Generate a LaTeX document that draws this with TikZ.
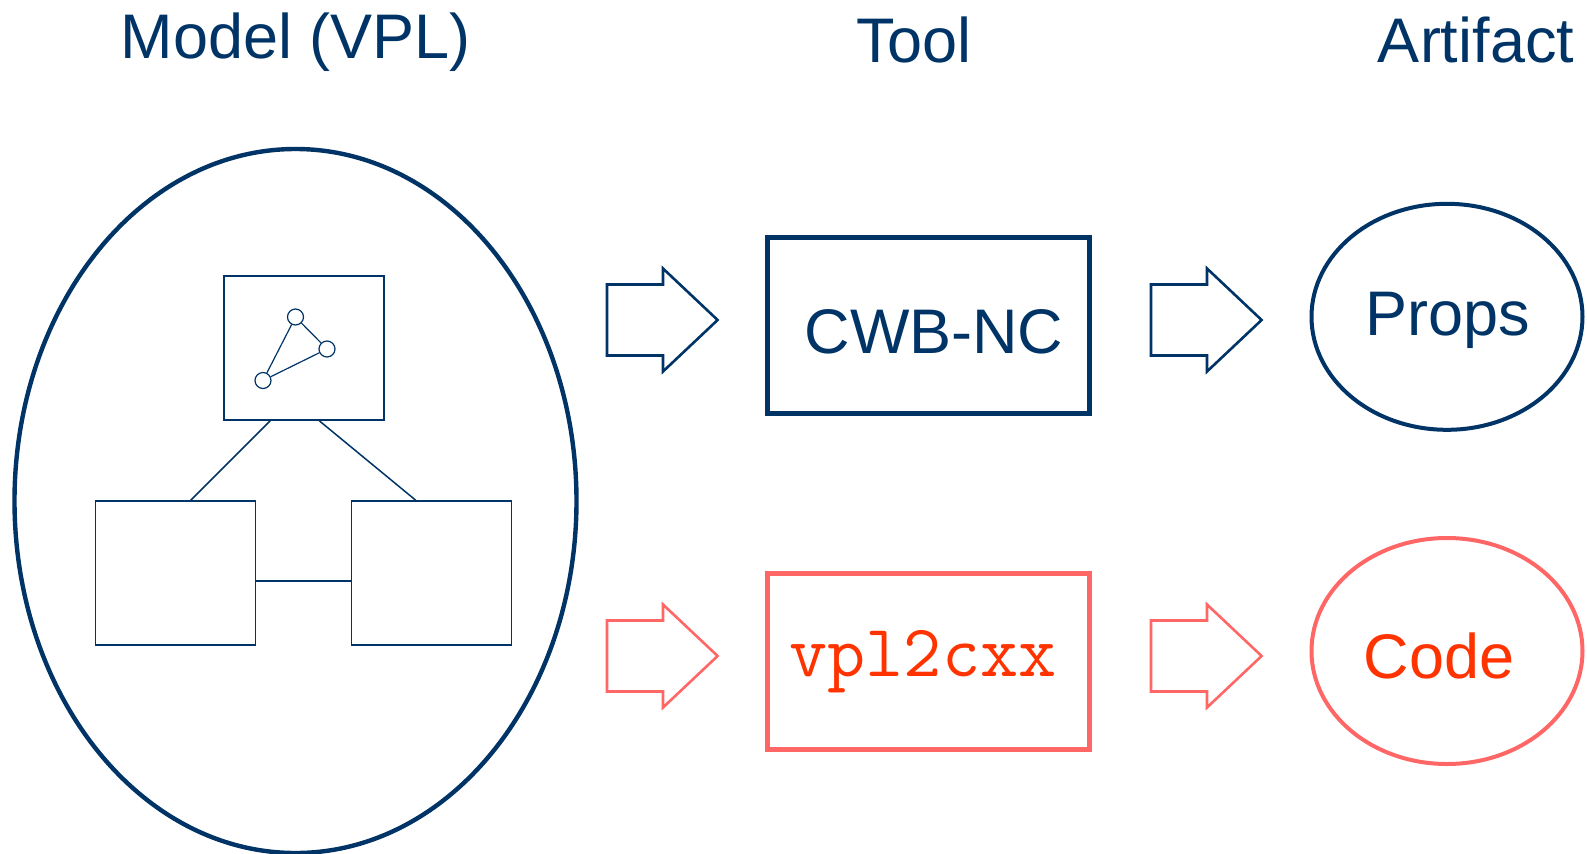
\documentclass[tikz,border=0pt]{standalone}
\usepackage{fontspec}
\setmainfont{Liberation Sans}
\usetikzlibrary{shapes.geometric}
\definecolor{navy}{RGB}{0,51,102}
\definecolor{salmon}{RGB}{255,102,102}
\definecolor{redtext}{RGB}{255,51,0}
\tikzset{
  big/.style={font=\fontsize{31.5}{36}\selectfont},
  thinbox/.style={draw=navy, line width=0.75pt, minimum width=80pt, minimum height=72pt, inner sep=0pt},
  toolbox/.style={line width=2.5pt, minimum width=161pt, minimum height=88pt, inner sep=0pt},
  artell/.style={ellipse, line width=2pt, minimum width=135.5pt, minimum height=113pt, inner sep=0pt},
  gnode/.style={circle, draw=navy, line width=0.6pt, minimum size=8pt, inner sep=0pt},
  thinline/.style={navy, line width=0.75pt},
  pics/blockarrow/.style={code={
    \draw[line width=1.3pt, line join=miter, #1] (0,-35.5) -- (56,-35.5) -- (56,-51.5) -- (110.6,0) -- (56,51.5) -- (56,35.5) -- (0,35.5) -- cycle;
  }}
}
\begin{document}
\begin{tikzpicture}[x=0.5pt,y=-0.5pt]
\useasboundingbox (0,0) rectangle (1587,853);
% titles
\node[big, text=navy] (tmodel) at (296,42) {Model (VPL)};
\node[big, text=navy] (ttool) at (914,40) {Tool};
\node[big, text=navy] (tart) at (1476,40) {Artifact};
% model ellipse
\node[ellipse, draw=navy, line width=2.2pt, minimum width=281pt, minimum height=352pt, inner sep=0pt] (model) at (295.5,501) {};
% boxes
\node[thinbox] (top) at (304,348) {};
\node[thinbox] (bl) at (175.5,573) {};
\node[thinbox] (br) at (431.5,573) {};
\path (top.south west) ++(47,0) coordinate (t1);
\path (top.south west) ++(96,0) coordinate (t2);
\path (bl.north west) ++(96,0) coordinate (b1);
\path (br.north west) ++(65,0) coordinate (b2);
\draw[thinline] (t1) -- (b1);
\draw[thinline] (t2) -- (b2);
\path (bl.east) ++(0,8) coordinate (m1);
\path (br.west) ++(0,8) coordinate (m2);
\draw[thinline] (m1) -- (m2);
% small graph
\node[gnode] (g1) at (295.5,317) {};
\node[gnode] (g2) at (327,349) {};
\node[gnode] (g3) at (263,380.5) {};
\draw[navy, line width=0.6pt] (g1) -- (g2);
\draw[navy, line width=0.6pt] (g2) -- (g3);
\draw[navy, line width=0.6pt] (g3) -- (g1);
% block arrows
\pic at (607,320) {blockarrow={draw=navy}};
\pic at (1151,320) {blockarrow={draw=navy}};
\pic at (607,656) {blockarrow={draw=salmon}};
\pic at (1151,656) {blockarrow={draw=salmon}};
% tool boxes
\node[toolbox, draw=navy] (cwb) at (928,325) {};
\node[big, text=navy] (cwbt) at (934,332) {CWB-NC};
\node[toolbox, draw=salmon] (vpl) at (928,661) {};
\node[text=redtext, font=\ttfamily\fontsize{37}{40}\selectfont] (vplt) at (923,662) {vpl2cxx};
% artifacts
\node[artell, draw=navy] (props) at (1447,316.8) {};
\node[big, text=navy] (propst) at (1448,320) {Props};
\node[artell, draw=salmon] (code) at (1447,651) {};
\node[big, text=redtext] (codet) at (1439,656) {Code};
\end{tikzpicture}
\end{document}
